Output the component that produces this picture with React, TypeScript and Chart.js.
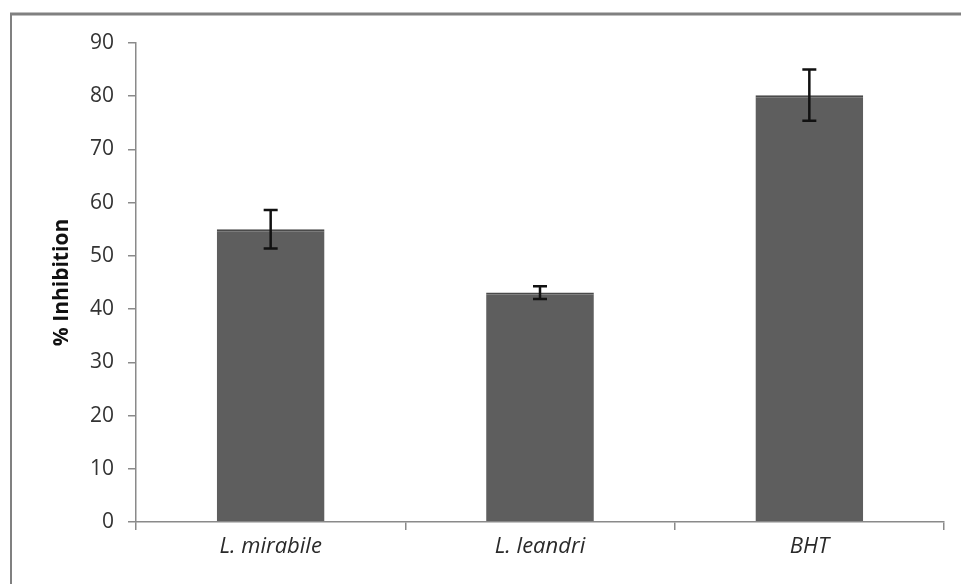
import React, { useEffect, useRef } from "react";
import { Chart, registerables } from "chart.js";

Chart.register(...registerables);

const categories = ["L. mirabile", "L. leandri", "BHT"];
const inhibition = [55.0, 43.1, 80.2];
const errors = [3.6, 1.2, 4.8];
const yTicks = [0, 10, 20, 30, 40, 50, 60, 70, 80, 90];

const FONT = "'Open Sans', 'DejaVu Sans', sans-serif";

const errorBarPlugin = {
  id: "errorBars",
  afterDatasetsDraw(chart: any) {
    const meta = chart.getDatasetMeta(0);
    const y = chart.scales.y;
    const ctx = chart.ctx;
    ctx.save();
    ctx.strokeStyle = "#111111";
    ctx.lineWidth = 2.5;
    meta.data.forEach((bar: any, i: number) => {
      const v = inhibition[i];
      const e = errors[i];
      const yTop = y.getPixelForValue(v + e);
      const yBot = y.getPixelForValue(v - e);
      const x = bar.x;
      const cap = 7;
      ctx.beginPath();
      ctx.moveTo(x, yTop);
      ctx.lineTo(x, yBot);
      ctx.moveTo(x - cap, yTop);
      ctx.lineTo(x + cap, yTop);
      ctx.moveTo(x - cap, yBot);
      ctx.lineTo(x + cap, yBot);
      ctx.stroke();
    });
    ctx.restore();
  },
};

const framePlugin = {
  id: "frame",
  afterDraw(chart: any) {
    const ctx = chart.ctx;
    ctx.save();
    ctx.strokeStyle = "#808080";
    ctx.lineWidth = 2;
    ctx.beginPath();
    ctx.moveTo(11, 600);
    ctx.lineTo(11, 14);
    ctx.stroke();
    ctx.lineWidth = 3;
    ctx.beginPath();
    ctx.moveTo(10, 14);
    ctx.lineTo(970, 14);
    ctx.stroke();
    ctx.restore();
  },
};

export default function App() {
  const ref = useRef<HTMLCanvasElement | null>(null);
  useEffect(() => {
    if (!ref.current) return;
    const chart = new Chart(ref.current, {
      type: "bar",
      data: {
        labels: categories,
        datasets: [
          {
            data: inhibition,
            backgroundColor: "#5e5e5e",
            borderColor: "#4a4a4a",
            borderWidth: { top: 2, left: 0, right: 0, bottom: 0 } as any,
            categoryPercentage: 1,
            barPercentage: 0.4,
          },
        ],
      },
      options: {
        animation: false,
        responsive: false,
        maintainAspectRatio: false,
        layout: { padding: { top: 43, right: 17, left: 0, bottom: 0 } },
        plugins: {
          legend: { display: false },
          tooltip: { enabled: false },
        },
        scales: {
          x: {
            offset: true,
            grid: {
              offset: true,
              drawOnChartArea: false,
              tickLength: 8,
              color: "#8a8a8a",
              lineWidth: 1.5,
            },
            border: { color: "#8a8a8a", width: 1.5 },
            ticks: {
              color: "#2a2a2a",
              padding: 4,
              font: { family: FONT, size: 22, style: "italic" },
            },
            afterFit: (s: any) => {
              s.height = 62;
            },
          },
          y: {
            min: 0,
            max: 90,
            afterBuildTicks: (s: any) => {
              s.ticks = yTicks.map((v) => ({ value: v }));
            },
            grid: {
              drawOnChartArea: false,
              tickLength: 8,
              color: "#8a8a8a",
              lineWidth: 1.5,
            },
            border: { color: "#8a8a8a", width: 1.5 },
            ticks: {
              color: "#333333",
              padding: 14,
              font: { family: FONT, size: 21 },
            },
            title: {
              display: true,
              text: "% Inhibition",
              color: "#111111",
              padding: { top: 49, bottom: 0 },
              font: { family: FONT, size: 21, weight: "bold" },
            },
            afterFit: (s: any) => {
              s.width = 136;
            },
          },
        },
      },
      plugins: [errorBarPlugin, framePlugin],
    });
    return () => chart.destroy();
  }, []);
  return (
    <div
      style={{
        position: "fixed",
        left: 0,
        top: 0,
        width: 961,
        height: 584,
        background: "#ffffff",
        overflow: "hidden",
      }}
    >
      <canvas ref={ref} width={961} height={584} style={{ width: 961, height: 584 }} />
    </div>
  );
}
